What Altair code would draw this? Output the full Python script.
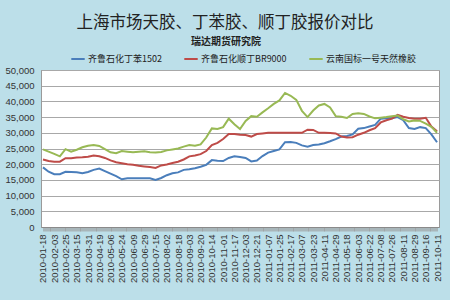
import altair as alt
import pandas as pd

title_text = "上海市场天胶、丁苯胶、顺丁胶报价对比"
subtitle_text = "瑞达期货研究院"

date_labels = [
    "2010-01-18", "2010-02-03", "2010-02-25", "2010-03-15", "2010-03-31", "2010-04-19",
    "2010-05-06", "2010-05-24", "2010-06-09", "2010-06-29", "2010-07-15", "2010-08-02",
    "2010-08-18", "2010-09-03", "2010-09-20", "2010-10-14", "2010-11-01", "2010-11-17",
    "2010-12-03", "2010-12-21", "2011-01-07", "2011-01-25", "2011-02-17", "2011-03-07",
    "2011-03-23", "2011-04-11", "2011-04-29", "2011-05-18", "2011-06-03", "2011-06-22",
    "2011-07-08", "2011-07-26", "2011-08-11", "2011-08-29", "2011-09-16", "2011-10-11",
]

series_names = ["齐鲁石化丁苯1502", "齐鲁石化顺丁BR9000", "云南国标一号天然橡胶"]
series_colors = ["#4a7ebb", "#be4b48", "#98b954"]

# trading-day index of each sample (labels every 12 trading days, samples every 6)
day_index = list(range(0, 421, 6))

sbr_1502 = [
    19000, 17600, 16800, 16800, 17600, 17500, 17400, 17100, 17500, 18200,
    18600, 17800, 17000, 16200, 15200, 15500, 15500, 15500, 15500, 15500,
    15000, 15600, 16500, 17100, 17400, 18200, 18400, 18700, 19200, 19800,
    21300, 21100, 21000, 22000, 22500, 22300, 22000, 20900, 21200, 22600,
    23700, 24200, 24700, 27000, 27100, 26800, 26000, 25600, 26100, 26300,
    26700, 27300, 28000, 28800, 29000, 29500, 31300, 31500, 32000, 32500,
    34500, 34600, 34600, 35000, 34000, 31500, 31200, 31800, 31500, 29500,
    27000,
]
br_9000 = [
    21500, 21000, 20800, 20800, 21900, 21900, 22100, 22200, 22400, 22800,
    22500, 22000, 21200, 20600, 20300, 20000, 19800, 19500, 19300, 19100,
    18800, 19600, 19900, 20400, 20800, 21500, 22500, 22800, 23200, 24200,
    26100, 26800, 28000, 29600, 29600, 29400, 29300, 28800, 29600, 29800,
    30000, 30000, 30000, 30000, 30000, 30000, 30000, 31000, 30900, 30000,
    30000, 29900, 29800, 28800, 28500, 28600, 29400, 30000, 30800, 31500,
    33300, 34000, 34500, 35700, 35100, 34700, 34500, 34500, 34800, 32000,
    30500,
]
natural_rubber = [
    24700, 24000, 23300, 22500, 24800, 24000, 24600, 25400, 25900, 26100,
    25800, 24800, 23800, 23500, 24200, 24000, 23800, 24000, 24100, 23800,
    23700, 23900, 24400, 24700, 25000, 25600, 26100, 25900, 26300, 28500,
    31400, 31200, 31800, 34500, 32700, 31200, 33800, 35300, 35100, 36500,
    37800, 39200, 40300, 42700, 41800, 40500, 37000, 35000, 37100, 38700,
    39200, 38100, 35300, 35100, 34700, 36000, 36200, 36000, 35200, 34600,
    34800, 35000, 35300, 35500, 34300, 33600, 33900, 33800, 32900, 31900,
    30000,
]

rows = []
for name, vals in zip(series_names, [sbr_1502, br_9000, natural_rubber]):
    for d, v in zip(day_index, vals):
        rows.append({"day": d, "price": v, "series": name})
df = pd.DataFrame(rows)

font = "Noto Sans CJK SC"
label_array = "[" + ",".join("'%s'" % s for s in date_labels) + "]"
label_expr = "datum.value % 12 == 0 ? " + label_array + "[datum.value / 12] : ''"

lines = alt.Chart(df).mark_line(strokeWidth=2).encode(
    x=alt.X(
        "day:Q",
        scale=alt.Scale(domain=[-2.1, 422.1], nice=False, zero=False),
        axis=alt.Axis(
            title=None,
            values=list(range(0, 421)),
            labelExpr=label_expr,
            labelAngle=-90,
            labelAlign="right",
            labelBaseline="middle",
            labelFont="Liberation Sans",
            labelFontSize=9.5,
            labelColor="#333333",
            labelOverlap=False,
            labelPadding=3,
            tickSize=4,
            tickColor="#9a9a9a",
            tickWidth=0.6,
            domainColor="#8a8a8a",
            grid=False,
        ),
    ),
    y=alt.Y(
        "price:Q",
        scale=alt.Scale(domain=[0, 50000], nice=False),
        axis=alt.Axis(
            title=None,
            values=list(range(0, 50001, 5000)),
            labelFont="Liberation Sans",
            labelFontSize=9.5,
            labelColor="#333333",
            labelPadding=7,
            ticks=False,
            domainColor="#9a9a9a",
            gridColor="#a8a8a8",
            gridWidth=1,
        ),
    ),
    color=alt.Color(
        "series:N",
        scale=alt.Scale(domain=series_names, range=series_colors),
        sort=series_names,
        legend=alt.Legend(
            title=None,
            orient="none",
            legendX=29,
            legendY=-19,
            direction="horizontal",
            symbolType="stroke",
            symbolSize=180,
            symbolStrokeWidth=2,
            labelFont=font,
            labelFontSize=9,
            labelColor="#222222",
            columnPadding=18,
            labelOffset=2,
        ),
    ),
)

title_df = pd.DataFrame({"t": [title_text]})
sub_df = pd.DataFrame({"t": [subtitle_text]})

title_mark = alt.Chart(title_df).mark_text(
    font=font, fontSize=16.5, color="#222222", align="center", baseline="middle"
).encode(text="t:N", x=alt.value(184), y=alt.value(-47))

sub_mark = alt.Chart(sub_df).mark_text(
    font=font, fontSize=10, fontWeight="bold", color="#222222", align="center", baseline="middle"
).encode(text="t:N", x=alt.value(185), y=alt.value(-28))

chart = alt.layer(lines, title_mark, sub_mark).properties(
    width=398,
    height=157,
    background="#bcdfe9",
    padding={"left": 41, "top": 70, "right": 11, "bottom": 73},
    autosize=alt.AutoSizeParams(type="none"),
).configure_view(fill="white", stroke="#9a9a9a", strokeWidth=1)

chart.save("out.html", embed_options={"renderer": "svg", "actions": False})
